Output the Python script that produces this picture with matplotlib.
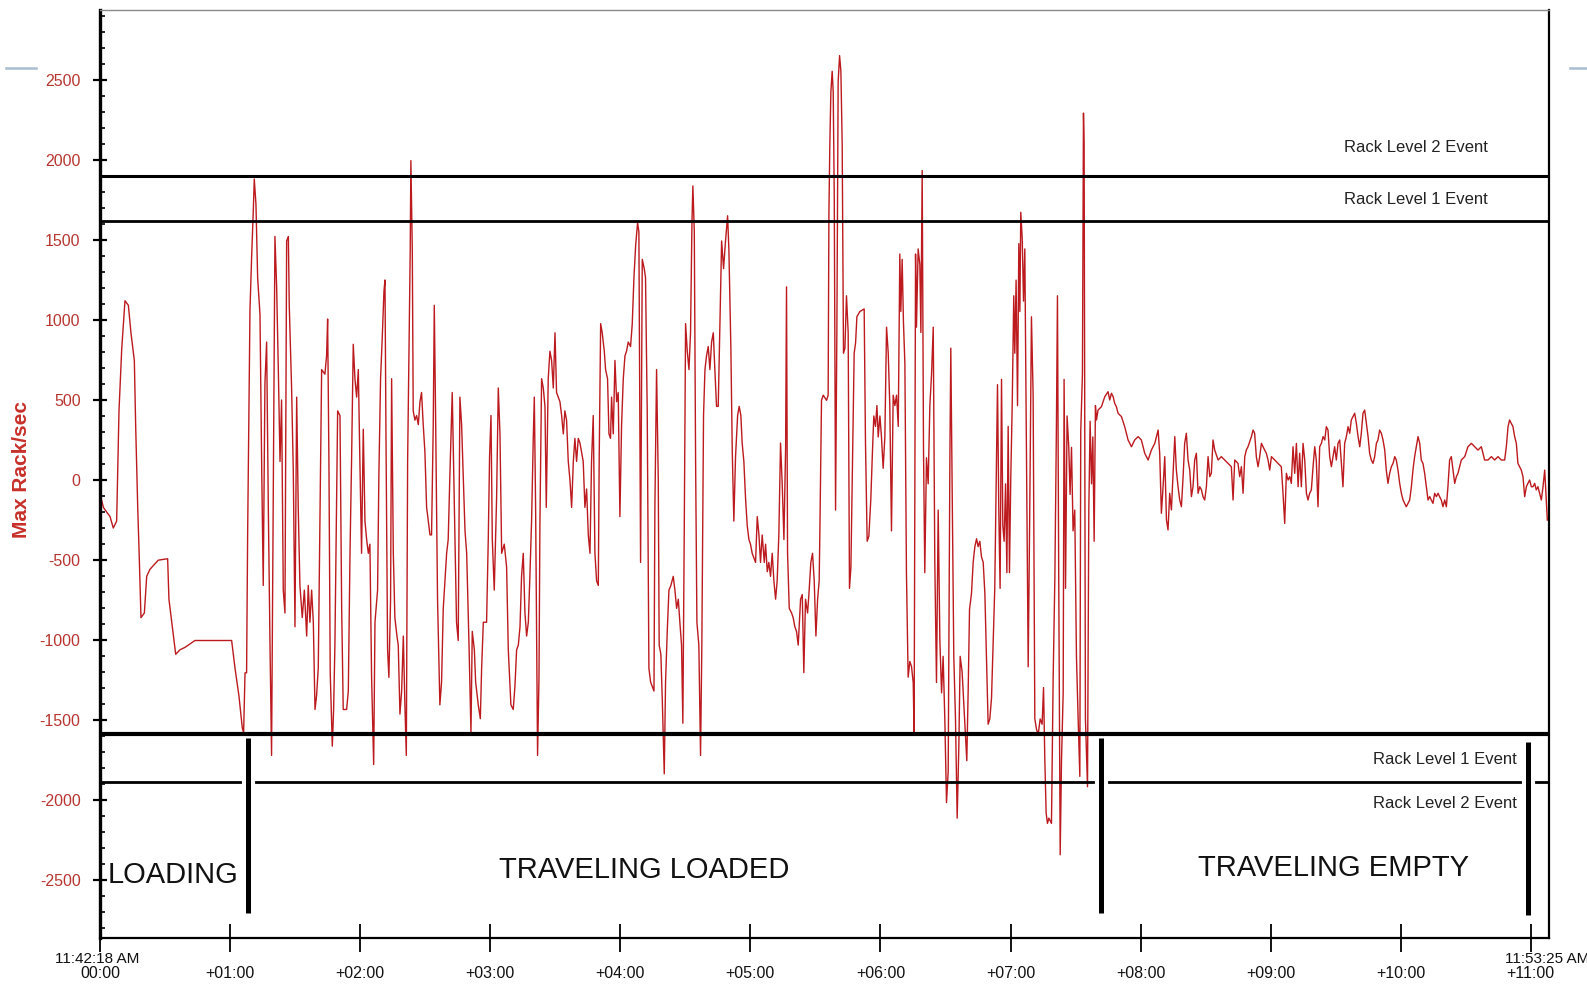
import matplotlib
matplotlib.use("Agg")
import matplotlib.pyplot as plt
import matplotlib.patheffects as pe
from matplotlib import font_manager
from matplotlib.ticker import MultipleLocator, FixedLocator

# ---------------- data (time in minutes, value in Rack/sec) ----------------
loading_t = [0.000, 0.026, 0.051, 0.077, 0.102, 0.128, 0.146, 0.167, 0.192, 0.218, 0.238, 0.264,
             0.274, 0.290, 0.302, 0.315, 0.341, 0.359, 0.384, 0.448, 0.520, 0.530, 0.556, 0.582,
             0.615, 0.653, 0.730, 1.012, 1.038, 1.068, 1.094, 1.104, 1.115, 1.127]
loading_v = [-85, -171, -200, -228, -300, -257, 432, 819, 1120, 1092, 920, 747,
             346, -171, -487, -860, -831, -602, -558, -501, -492, -745, -917, -1089,
             -1061, -1046, -1003, -1003, -1176, -1348, -1549, -1580, -1205, -1205]

loaded_t = [1.135, 1.153, 1.166, 1.179, 1.186, 1.199, 1.212, 1.230, 1.243, 1.255, 1.268, 1.281,
            1.294, 1.307, 1.319, 1.332, 1.345, 1.358, 1.371, 1.384, 1.396, 1.409, 1.422, 1.435,
            1.448, 1.455, 1.473, 1.486, 1.499, 1.512, 1.524, 1.537, 1.555, 1.571, 1.589, 1.601,
            1.614, 1.627, 1.640, 1.653, 1.665, 1.678, 1.704, 1.729, 1.742, 1.750, 1.760, 1.770,
            1.786, 1.796, 1.806, 1.827, 1.845, 1.858, 1.870, 1.896, 1.909, 1.922, 1.934, 1.947,
            1.960, 1.973, 1.986, 1.998, 2.011, 2.024, 2.037, 2.050, 2.063, 2.075, 2.088, 2.104,
            2.114, 2.134, 2.144, 2.157, 2.170, 2.183, 2.191, 2.198, 2.211, 2.221, 2.234, 2.242,
            2.255, 2.267, 2.283, 2.293, 2.306, 2.319, 2.332, 2.344, 2.355, 2.365, 2.378, 2.385,
            2.390, 2.401, 2.408, 2.421, 2.434, 2.447, 2.460, 2.472, 2.485, 2.498, 2.511, 2.524,
            2.537, 2.549, 2.562, 2.570, 2.580, 2.595, 2.613, 2.626, 2.639, 2.665, 2.677, 2.690,
            2.708, 2.724, 2.741, 2.754, 2.767, 2.780,
            2.806, 2.819, 2.837, 2.852, 2.862, 2.878, 2.888, 2.908, 2.924, 2.934, 2.947, 2.972,
            2.985, 2.995, 3.006, 3.016, 3.031, 3.049, 3.062, 3.075, 3.088, 3.108, 3.126, 3.139,
            3.159, 3.177, 3.190, 3.203, 3.216, 3.229, 3.241, 3.254, 3.267, 3.280, 3.293, 3.305,
            3.318, 3.331, 3.339, 3.349, 3.364, 3.375, 3.382, 3.395, 3.408, 3.421, 3.431, 3.446,
            3.459, 3.472, 3.485, 3.498, 3.510, 3.523, 3.536, 3.549, 3.562, 3.574, 3.587, 3.600,
            3.613, 3.626, 3.639, 3.651, 3.664, 3.677, 3.690, 3.703, 3.715, 3.728, 3.741, 3.754,
            3.767, 3.779, 3.792, 3.805, 3.818, 3.831, 3.838, 3.849, 3.861, 3.877, 3.887, 3.902,
            3.913, 3.925, 3.933, 3.946, 3.959, 3.972, 3.984, 3.997, 4.010, 4.023, 4.036, 4.048,
            4.061, 4.079, 4.092, 4.105, 4.118, 4.133, 4.143, 4.156, 4.169, 4.184, 4.194, 4.207,
            4.220, 4.233, 4.246, 4.259, 4.266, 4.279, 4.292, 4.299, 4.312, 4.323, 4.338, 4.348,
            4.361, 4.374, 4.389, 4.407, 4.420, 4.433, 4.446, 4.458, 4.471, 4.481, 4.492, 4.502,
            4.515, 4.528, 4.540, 4.551, 4.558, 4.569, 4.579, 4.589, 4.604, 4.617, 4.627, 4.640,
            4.651, 4.663, 4.676, 4.689, 4.702, 4.715, 4.727, 4.740, 4.753, 4.766, 4.779, 4.794,
            4.809, 4.825, 4.835, 4.850, 4.861, 4.873, 4.886, 4.902, 4.914, 4.927, 4.937, 4.950,
            4.963, 4.976, 4.989, 5.001, 5.014, 5.027, 5.040, 5.053, 5.066, 5.078, 5.091, 5.107,
            5.117, 5.130, 5.142, 5.155, 5.168, 5.181, 5.194, 5.206, 5.219, 5.232, 5.245, 5.258,
            5.271, 5.278, 5.286, 5.299, 5.317, 5.329, 5.342, 5.355, 5.368, 5.386, 5.399, 5.411,
            5.424, 5.440, 5.450, 5.465, 5.478, 5.491, 5.504, 5.517, 5.529,
            5.534, 5.547, 5.560, 5.586, 5.598, 5.604, 5.611, 5.619, 5.629, 5.637, 5.645, 5.655,
            5.665, 5.675, 5.686, 5.696, 5.706, 5.716, 5.727, 5.739, 5.752, 5.762, 5.773, 5.786,
            5.798, 5.809, 5.819, 5.842, 5.875, 5.885, 5.898, 5.911, 5.926, 5.937, 5.949, 5.962,
            5.973, 5.983, 5.996, 6.008, 6.021, 6.034, 6.047, 6.060, 6.072, 6.085, 6.098, 6.111,
            6.124, 6.137, 6.149, 6.157, 6.167, 6.177, 6.188, 6.200, 6.213, 6.226, 6.239, 6.252,
            6.259, 6.270, 6.277, 6.290, 6.303, 6.311, 6.321, 6.331, 6.341, 6.354, 6.367, 6.380,
            6.393, 6.406, 6.418, 6.431, 6.444, 6.457, 6.470, 6.482, 6.495, 6.508, 6.521, 6.534,
            6.541, 6.552, 6.564, 6.577, 6.590, 6.603, 6.613, 6.628, 6.641, 6.654, 6.664, 6.675,
            6.685, 6.700, 6.713, 6.726, 6.739, 6.751, 6.764, 6.777, 6.790, 6.803, 6.815, 6.828,
            6.841, 6.854, 6.867, 6.879, 6.892, 6.900, 6.910, 6.920, 6.931, 6.941, 6.951, 6.962,
            6.972, 6.982, 6.992, 7.002, 7.013, 7.025, 7.033, 7.043, 7.054, 7.064, 7.072, 7.079,
            7.090, 7.100, 7.110, 7.123, 7.136, 7.148, 7.161, 7.174, 7.187, 7.200, 7.213, 7.228,
            7.243, 7.254, 7.264, 7.274, 7.284, 7.295, 7.315, 7.328, 7.341, 7.353, 7.361, 7.371,
            7.382, 7.392, 7.405, 7.412, 7.423, 7.435, 7.448, 7.458, 7.469, 7.481, 7.494, 7.507,
            7.520, 7.533, 7.540, 7.553, 7.561, 7.566, 7.576, 7.592, 7.602, 7.612, 7.623, 7.633,
            7.643, 7.653]
loaded_v = [-343, 1063, 1400, 1694, 1881, 1723, 1264, 1034, 87, -659, 604, 862,
            -171, -1032, -1721, -114, 1522, 1207, 690, 116, 500, -688, -831, 1494,
            1522, 1092, 575, 59, -917, 518, -171, -659, -860, -688, -975, -659,
            -889, -688, -889, -1434, -1348, -1176, 690, 661, 776, 1006, 116, -1204,
            -1663, -1434, -1032, 432, 403, -802, -1434, -1434, -1319, -458, 116, 848,
            633, 518, 690, 116, -458, 317, -257, -372, -458, -401, -1233, -1778,
            -889, -688, 30, 633, 891, 1178, 1250, 346, -1061, -1233, -745, 633,
            -458, -860, -975, -1032, -1463, -1319, -975, -1405, -1721, 116, 977, 1436,
            1996, 1436, 432, 374, 403, 346, 489, 547, 346, 173, -171, -257,
            -343, -343, 346, 1092, 403, -745, -1405, -1262, -802, -458, -372, 30,
            547, -142, -889, -1003, 518, 346,
            -315, -458, -1032, -1577, -946, -1061, -1262, -1405, -1491, -1176, -889, -889,
            -372, 145, 403, -372, -688, -114, 575, 288, -458, -401, -544, -1061,
            -1405, -1434, -1290, -1061, -1032, -917, -602, -458, -831, -975, -889, -602,
            -257, 260, 518, -171, -1721, -1233, -286, 633, 575, 460, -171, 633,
            805, 747, 575, 920, 547, 518, 489, 403, 288, 432, 374, 116,
            1, -171, 116, 260, 116, 260, 231, 173, 116, -171, -56, -343,
            -458, 116, 403, -458, -631, -659, 145, 977, 920, 805, 690, 633,
            288, 260, 518, 288, 747, 489, 547, -229, 346, 633, 776, 805,
            862, 834, 977, 1264, 1465, 1608, 1551, -515, 1379, 1321, 1264, 432,
            -1176, -1262, -1290, -1319, -171, 690, 1, -1032, -1089, -1376, -1836, -1262,
            -946, -688, -659, -602, -688, -802, -745, -889, -1032, -1520, -286, 977,
            805, 690, 920, 1608, 1838, 1551, 116, -889, -1032, -1721, -1032, 403,
            690, 776, 834, 690, 862, 920, 690, 460, 460, 977, 1494, 1321,
            1494, 1651, 1436, 834, 173, -257, 145, 403, 460, 403, 231, 116,
            -114, -286, -372, -401, -458, -487, -515, -229, -343, -515, -343, -515,
            -401, -573, -515, -602, -458, -631, -745, -631, -343, 231, -28, -372,
            202, 1207, -458, -802, -831, -860, -917, -946, -1032, -745, -716, -1204,
            -745, -831, -716, -515, -458, -631, -975, -745, -631,
            -351, 498, 530, 498, 530, 1673, 2097, 2424, 2554, 2424, 1771, -188,
            922, 2489, 2652, 2554, 2097, 792, 824, 1151, 922, -677, -547, 139,
            792, 857, 1020, 1053, 1069, 237, -383, -351, -122, 139, 400, 335,
            465, 269, 400, 269, 73, 269, 955, 792, 465, -318, 530, 465,
            530, 335, 1412, 1053, 1379, 987, 726, -579, -1232, -1134, -1166, -1265,
            -1591, 1412, 955, 1444, 1346, 922, 1934, 204, -579, 139, -24, 465,
            661, 955, -514, -1265, -188, -1004, -1330, -1102, -1493, -2016, -1820, 139,
            824, -90, -1102, -1493, -2113, -1656, -1102, -1199, -1395, -1591, -1754, -1297,
            -808, -710, -514, -416, -367, -416, -383, -481, -514, -710, -1102, -1526,
            -1493, -1363, -1004, -677, 139, 596, -188, -677, 629, -286, -383, -24,
            -579, 335, -579, 8, 465, 1151, 792, 1249, 465, 1477, 1053, 1673,
            1510, 1118, 1444, 139, -1167, -188, 1020, 530, -1493, -1558, -1591, -1493,
            -1526, -1297, -1754, -2081, -2146, -2113, -2146, -1232, -612, 335, 1151, -645,
            -2342, -1754, -1330, 629, -677, 400, 204, -90, 204, -318, -188, -1102,
            -1493, -1852, 302, 661, 2293, 2097, -1493, -1917, -188, 367, -24, 269,
            -383, 465]

empty_t = [7.661, 7.673, 7.699, 7.725, 7.750, 7.763, 7.776, 7.789, 7.801, 7.814, 7.827, 7.853,
           7.878, 7.904, 7.930, 7.955, 7.981, 8.006, 8.032, 8.058, 8.083, 8.109, 8.135, 8.147,
           8.160, 8.173, 8.186, 8.199, 8.211, 8.224, 8.237, 8.250, 8.263, 8.275, 8.288, 8.301,
           8.314, 8.327, 8.339, 8.352, 8.365, 8.378, 8.391, 8.403, 8.416, 8.429, 8.442, 8.455,
           8.468, 8.480, 8.493, 8.506, 8.519, 8.532, 8.544, 8.557, 8.570, 8.596, 8.621, 8.647,
           8.673, 8.698, 8.711, 8.724, 8.749, 8.762, 8.775, 8.788, 8.801, 8.813, 8.826, 8.852,
           8.865, 8.877, 8.890, 8.903, 8.916, 8.929, 8.954, 8.967, 8.980, 8.993, 9.006, 9.031,
           9.057, 9.082, 9.095, 9.108, 9.121, 9.134, 9.147, 9.159, 9.172, 9.185, 9.198, 9.211,
           9.223, 9.236, 9.249, 9.262, 9.275, 9.287, 9.300, 9.313, 9.326, 9.339, 9.351, 9.364,
           9.377, 9.390, 9.403, 9.416, 9.428, 9.441, 9.454, 9.467, 9.480, 9.492, 9.505, 9.518,
           9.531, 9.544, 9.556, 9.569, 9.582, 9.595, 9.608, 9.620, 9.633, 9.646, 9.659, 9.672,
           9.685, 9.697, 9.710, 9.723, 9.736, 9.749, 9.761, 9.774, 9.787, 9.800, 9.813, 9.825,
           9.838, 9.851, 9.864, 9.877, 9.889, 9.902, 9.915, 9.928, 9.941, 9.954, 9.966, 9.979,
           9.992, 10.005, 10.018, 10.030, 10.043, 10.056, 10.069, 10.082, 10.094, 10.107, 10.120, 10.133,
           10.146, 10.158, 10.171, 10.184, 10.197, 10.210, 10.223, 10.235, 10.248, 10.261, 10.274, 10.287,
           10.299, 10.312, 10.325, 10.338, 10.351, 10.363, 10.376, 10.389, 10.402, 10.415, 10.428, 10.440,
           10.453, 10.466, 10.492, 10.517, 10.543, 10.568, 10.594, 10.620, 10.632, 10.645, 10.671, 10.697,
           10.722, 10.748, 10.773, 10.799, 10.812, 10.825, 10.837, 10.850, 10.863, 10.876, 10.889, 10.901,
           10.914, 10.927, 10.940, 10.953, 10.966, 10.978, 10.991, 11.004, 11.017, 11.030, 11.042, 11.055,
           11.068, 11.081, 11.094, 11.107, 11.119, 11.127]
empty_v = [375, 437, 458, 521, 552, 500, 542, 521, 479, 458, 417, 396,
           333, 250, 208, 250, 271, 250, 167, 125, 187, 229, 312, 167,
           -208, -42, 146, -250, -312, -83, -187, 42, 271, 62, -42, -125,
           -167, 21, 229, 292, 125, 62, -104, -42, 125, 167, -83, -42,
           -62, -104, -125, -42, 146, 21, 42, 250, 187, 125, 146, 125,
           104, 83, -125, 125, 104, 21, 83, -83, 146, 187, 208, 271,
           312, 292, 146, 83, 146, 229, 187, 167, 125, 62, 146, 125,
           104, 83, -83, -271, 42, 0, 21, -21, 208, 42, 229, -42,
           167, -42, 229, 125, -83, -125, -83, -62, 83, 208, 125, -167,
           208, 229, 271, 250, 333, 312, 146, 83, 146, 208, 125, 229,
           250, 104, -42, 229, 271, 333, 292, 375, 396, 417, 354, 271,
           208, 292, 417, 437, 354, 271, 167, 125, 104, 146, 229, 250,
           312, 292, 250, 187, 62, -21, 42, 83, 104, 146, 125, 62,
           -21, -83, -125, -146, -167, -146, -125, -42, 62, 146, 208, 271,
           229, 125, 104, 42, -42, -125, -104, -125, -146, -83, -104, -83,
           -104, -125, -167, -125, -167, -42, 125, 146, 62, -21, 21, 42,
           83, 125, 146, 208, 229, 208, 187, 208, 167, 125, 125, 146,
           125, 146, 125, 125, 208, 333, 375, 354, 333, 271, 229, 104,
           83, 62, 21, -104, -42, -21, 0, -42, -42, -21, -62, -42,
           -83, -125, -42, 62, -125, -250]

event_levels = [1900, 1620, -1590, -1890]
event_labels = ["Rack Level 2 Event", "Rack Level 1 Event", "Rack Level 1 Event", "Rack Level 2 Event"]
phase_names = ["LOADING", "TRAVELING LOADED", "TRAVELING EMPTY"]
phase_ends = [1.138, 7.694, 10.976]
y_ticks = [-2500, -2000, -1500, -1000, -500, 0, 500, 1000, 1500, 2000, 2500]
x_ticks = [0, 1, 2, 3, 4, 5, 6, 7, 8, 9, 10, 11]
x_tick_labels = ["00:00", "+01:00", "+02:00", "+03:00", "+04:00", "+05:00", "+06:00",
                 "+07:00", "+08:00", "+09:00", "+10:00", "+11:00"]
start_stamp = "11:42:18 AM"
end_stamp = "11:53:25 AM"

# ---------------- fonts ----------------
installed = {f.name for f in font_manager.fontManager.ttflist}
narrow = "Liberation Sans Narrow" in installed
base_font = ["Liberation Sans", "DejaVu Sans"]
ann_font = ["Liberation Sans Narrow", "Liberation Sans", "DejaVu Sans"] if narrow else base_font
big_size = 25 if narrow else 21
small_size = 14.5 if narrow else 12
plt.rcParams["font.family"] = base_font

W, H = 1587, 986
fig = plt.figure(figsize=(W / 100, H / 100), dpi=100)
ax = fig.add_axes([100 / W, 1 - 938 / H, (1549 - 100) / W, (938 - 10) / H])
ax.set_xlim(0, 11.14)
ax.set_ylim(-2862, 2937)

t_all = loading_t + loaded_t + empty_t
v_all = loading_v + loaded_v + empty_v
ax.plot(t_all, v_all, color="#bc1a1e", lw=1.0, zorder=2)

# threshold lines
lws = [2.2, 2.0, 3.0, 2.0]
for lev, lw in zip(event_levels, lws):
    ax.axhline(lev, color="black", lw=lw, zorder=3)

# threshold labels
ax.text(10.669, 2075, event_labels[0], ha="right", va="center", fontsize=small_size,
        family=ann_font, color="#222222")
ax.text(10.669, 1750, event_labels[1], ha="right", va="center", fontsize=small_size,
        family=ann_font, color="#222222")
ax.text(10.892, -1744, event_labels[2], ha="right", va="center", fontsize=small_size,
        family=ann_font, color="#222222")
ax.text(10.892, -2019, event_labels[3], ha="right", va="center", fontsize=small_size,
        family=ann_font, color="#222222")

# phase separators
bar_bottoms = [-2706, -2706, -2719]
bar_tops = [-1612, -1612, -1637]
for xe, yb, yt in zip(phase_ends, bar_bottoms, bar_tops):
    ax.plot([xe, xe], [yb, yt], color="black", lw=3.6, solid_capstyle="butt", zorder=4,
            path_effects=[pe.Stroke(linewidth=9.5, foreground="white"), pe.Normal()])

# phase names
ax.text(0.565, -2470, phase_names[0], ha="center", va="center", fontsize=big_size,
        family=ann_font, color="#111111", zorder=5)
ax.text(4.18, -2440, phase_names[1], ha="center", va="center", fontsize=big_size,
        family=ann_font, color="#111111", zorder=5)
ax.text(9.485, -2425, phase_names[2], ha="center", va="center", fontsize=big_size,
        family=ann_font, color="#111111", zorder=5)

# axes styling
ax.spines["left"].set_linewidth(2.4)
ax.spines["bottom"].set_linewidth(1.6)
ax.spines["right"].set_linewidth(1.6)
ax.spines["top"].set_linewidth(1.0)
ax.spines["top"].set_color("#888888")

ax.yaxis.set_major_locator(FixedLocator(y_ticks))
ax.yaxis.set_minor_locator(MultipleLocator(100))
ax.set_yticklabels([str(v) for v in y_ticks])
ax.tick_params(axis="y", which="major", direction="inout", length=10, width=1.6,
               pad=9, labelsize=11.5, labelcolor="#b8352f")
ax.tick_params(axis="y", which="minor", direction="in", length=3.5, width=1.2)

ax.xaxis.set_major_locator(FixedLocator(x_ticks))
ax.set_xticklabels(x_tick_labels)
ax.tick_params(axis="x", which="major", direction="inout", length=20, width=1.3,
               pad=10.5, labelsize=11.5, labelcolor="#111111")

ax.set_ylabel("Max Rack/sec", fontsize=15, fontweight="bold", color="#c8302a")
ax.yaxis.set_label_coords(-(100 - 31) / (1549 - 100), (938 - 470) / (938 - 10))

# time stamps
fig.text(97 / W, 1 - 959 / H, start_stamp, ha="center", va="center", fontsize=11, color="#111111")
fig.text(1505 / W, 1 - 959 / H, end_stamp, ha="left", va="center", fontsize=11, color="#111111")

# decorative slide marks
fig.add_artist(plt.Line2D([6 / W, 36 / W], [1 - 68 / H, 1 - 68 / H], color="#a8bcd2", lw=1.8))
fig.add_artist(plt.Line2D([1570 / W, 1587 / W], [1 - 68 / H, 1 - 68 / H], color="#a8bcd2", lw=1.8))

fig.savefig("out.png", dpi=100)
